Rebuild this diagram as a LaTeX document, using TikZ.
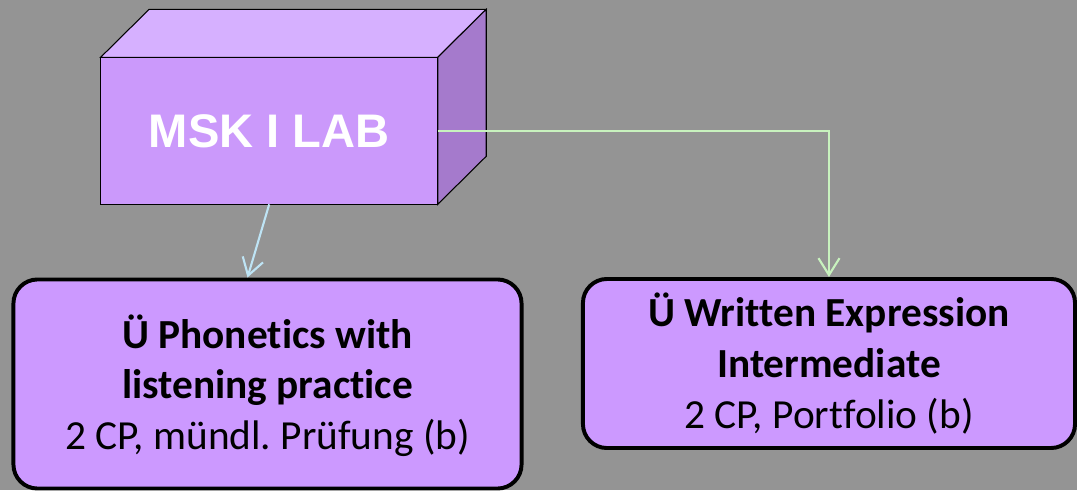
\documentclass[tikz,border=0pt]{standalone}
\usepackage{fontspec}
\setmainfont{Carlito}[Ligatures=NoCommon]
\newfontfamily\labfont{Liberation Sans}
\usetikzlibrary{positioning}
\usetikzlibrary{arrows.meta}
\definecolor{bg}{RGB}{148,148,148}
\definecolor{cubefront}{RGB}{203,153,251}
\definecolor{cubetop}{RGB}{214,176,255}
\definecolor{cubeside}{RGB}{165,122,204}
\definecolor{boxfill}{RGB}{204,153,255}
\definecolor{greenline}{RGB}{200,242,190}
\definecolor{blueline}{RGB}{190,228,245}
\frenchspacing

\begin{document}
\begin{tikzpicture}[x=0.025cm, y=-0.025cm,
    course/.style={draw, line width=2.8pt, rounded corners=0.6cm, fill=boxfill, align=center, font=\fontsize{29.4}{36}\selectfont, text depth=10pt},
    link/.style={line width=1.5pt, -{Straight Barb[length=12pt, width=15pt]}}]
            \fill[bg] (0,0) rectangle (1077,490);

            \node[draw, line width=0.75pt, outer sep=0pt, inner sep=0pt, fill=cubefront, minimum width=8.425cm, minimum height=3.675cm, text=white, font=\labfont\bfseries\fontsize{33.5}{40}\selectfont] (lab) at (269.2,130.8) {MSK I LAB};
            \draw[line width=0.75pt, fill=cubetop] (lab.north west) -- ++(48.5,-48) -- ++(337,0) -- (lab.north east) -- cycle;
            \draw[line width=0.75pt, fill=cubeside] (lab.north east) -- ++(48.5,-48) -- ++(0,147) -- (lab.south east) -- cycle;

            \node[course, minimum width=12.7cm, minimum height=5.225cm, text height=103pt] (phonetics) at (267.5,384) {\textbf{Ü Phonetics with}\\\textbf{listening practice}\\2 CP, mündl. Prüfung (b)};
            \node[course, minimum width=12.3cm, minimum height=4.225cm, text height=102pt] (written) at (829,363.5) {\textbf{Ü Written Expression}\\\textbf{Intermediate}\\2 CP, Portfolio (b)};

            \draw[link, greenline] (lab.east) -| (written.north);
            \draw[link, blueline] (lab.south) -- ([xshift=-0.5cm]phonetics.north);
        \end{tikzpicture}
\end{document}
